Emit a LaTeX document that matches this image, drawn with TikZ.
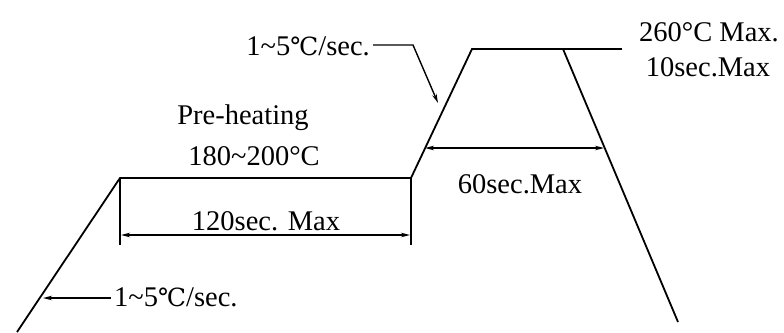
\documentclass[tikz,border=0pt]{standalone}
\usepackage{fontspec}
\setmainfont{Liberation Serif}
\newfontfamily\symfont{DejaVu Serif}
\usetikzlibrary{arrows.meta}
\newcommand{\celsiusmark}{{\symfont\fontsize{25}{27}\selectfont ℃}}
\tikzset{
  profile/.style={line width=1.8pt, black},
  thin/.style={line width=1.4pt, black},
  dim/.style={line width=1.4pt, black, {Stealth[length=9pt,width=4.5pt]}-{Stealth[length=9pt,width=4.5pt]}},
  pointer/.style={line width=1.4pt, black, -{Stealth[length=9pt,width=4.5pt]}},
  lbl/.style={font=\fontsize{28.5}{30}\selectfont, inner sep=0pt, text=black}
}
\begin{document}
\begin{tikzpicture}[x=1pt,y=-1pt]
\useasboundingbox (0,0) rectangle (784,332);
% profile coordinates
\coordinate (start) at (17,332);
\coordinate (preA) at (120,178);
\coordinate (preB) at (411,178);
\coordinate (peakA) at (472,49);
\coordinate (peakB) at (563,49);
\coordinate (peakExt) at (622,49);
\coordinate (finish) at (678,322);
\draw[profile] (start) -- (preA) -- (preB) -- (peakA) -- (peakB) -- (finish);
\draw[thin] (peakB) -- (peakExt);
% extension lines for 120 sec
\coordinate (extL) at (120,245);
\coordinate (extR) at (411,245);
\draw[thin] (preA) -- (extL);
\draw[thin] (preB) -- (extR);
% dimension 120 sec
\coordinate (d1a) at (121,235);
\coordinate (d1b) at (410,235);
\draw[dim] (d1a) -- (d1b);
% dimension 60 sec
\coordinate (d2a) at (425,148);
\coordinate (d2b) at (604,148);
\draw[dim] (d2a) -- (d2b);
% labels
\node[lbl] (pre) at (243,118) {Pre-heating};
\node[lbl] (pret) at (254,156) {180\textasciitilde200°C};
\node[lbl] (t120) at (266,221) {120sec. Max};
\node[lbl] (t60) at (520,184) {60sec.Max};
\node[lbl] (peak1) at (709,32) {260°C Max.};
\node[lbl] (peak2) at (708,67) {10sec.Max};
\node[lbl, anchor=west] (rate1) at (114,297) {1\textasciitilde5\celsiusmark/sec.};
\node[lbl, anchor=east] (rate2) at (370,46) {1\textasciitilde5\celsiusmark/sec.};
% pointers
\coordinate (r1tip) at (43,298);
\coordinate (r1tail) at (111,298);
\draw[pointer] (r1tail) -- (r1tip);
\coordinate (r2tail) at (373,45);
\coordinate (r2bend) at (413,45);
\coordinate (r2tip) at (438,103);
\draw[pointer] (r2tail) -- (r2bend) -- (r2tip);
\end{tikzpicture}
\end{document}
